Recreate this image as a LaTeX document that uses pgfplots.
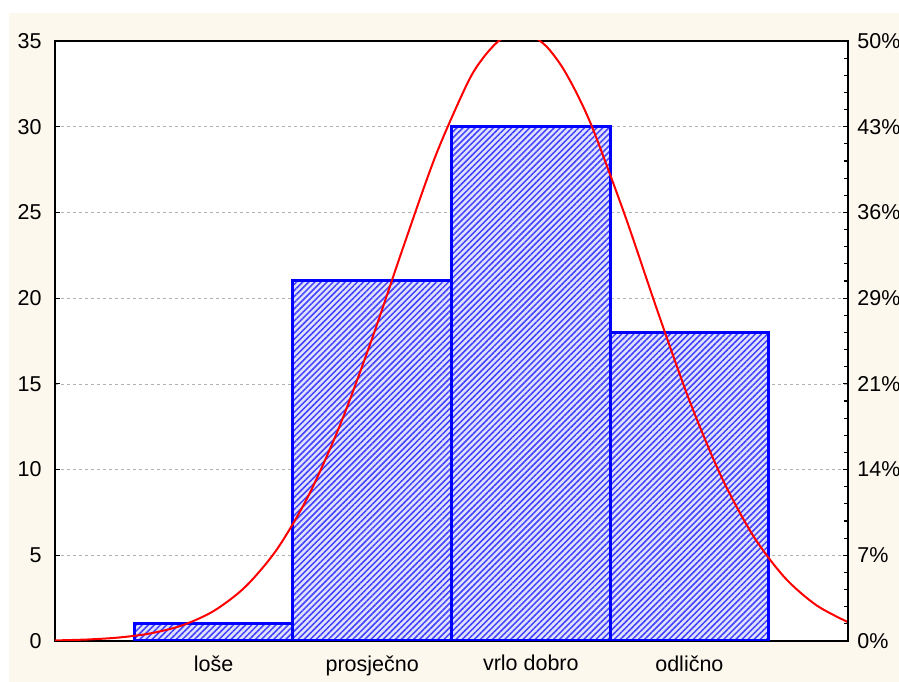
\documentclass[border=0pt]{standalone}
\usepackage{fontspec}
\setmainfont{Liberation Sans}
\usepackage{pgfplots}
\pgfplotsset{compat=1.18}
\usetikzlibrary{patterns.meta}
\definecolor{cream}{HTML}{FDF8EE}
\definecolor{barblue}{HTML}{0000FF}
\begin{document}
\fontsize{21.5bp}{25bp}\selectfont
\begin{tikzpicture}
\useasboundingbox (0,0) rectangle (899bp,682bp);
\fill[white] (0,0) rectangle (899bp,682bp);
\fill[cream] (9bp,0) rectangle (899bp,669bp);
\pgfplotsset{
  base/.style={
    at={(55bp,41bp)}, anchor=south west,
    scale only axis, width=793bp, height=600bp,
    xmin=0, xmax=5, ymin=0, ymax=35,
    axis background/.style={fill=white},
    /pgf/number format/assume math mode=true,
    tick label style={font=\fontsize{21.5bp}{25bp}\selectfont, text=black},
    tick align=inside,
    major tick length=5bp, minor tick length=4bp,
    every tick/.style={black, line width=1.2bp},
    axis line style={black, line width=1.8bp},
  }
}
\begin{axis}[base,
  xtick={1,2,3,4},
  xticklabels={loše, prosječno, vrlo dobro, odlično},
  xtick pos=bottom, ytick pos=left,
  ytick={0,5,...,35},
  ymajorgrids,
  grid style={dashed, gray!60, line width=0.6bp},
  yticklabel style={xshift=-6bp},
  xticklabel style={yshift=-7bp},
]
\addplot[ybar, bar width=1, bar shift=0pt, draw=barblue, line width=3bp,
  fill=barblue!12,
  postaction={pattern={Lines[angle=45, distance=4.3bp, line width=1.5bp]},
  pattern color=barblue!75}]
  coordinates {(1,1) (2,21) (3,30) (4,18)};
\addplot[red, line width=2bp, smooth, no markers] coordinates {
(0.0,0.034) (0.2,0.086) (0.4,0.201) (0.6,0.441) (0.8,0.907)
(1.0,1.748) (1.2,3.161) (1.4,5.357) (1.6,8.51) (1.8,12.66)
(2.0,17.66) (2.2,23.09) (2.4,28.31) (2.6,32.53) (2.7,34.02) (2.8,35.02)
(2.9,35.48) (3.0,35.35) (3.1,34.67) (3.2,33.45) (3.3,31.75) (3.4,29.67)
(3.6,24.66) (3.8,19.22) (4.0,14.03) (4.2,9.61) (4.4,6.17)
(4.6,3.71) (4.8,2.09) (5.0,1.10)};
\end{axis}
\begin{axis}[base,
  axis background/.style={},
  axis x line=none,
  axis y line*=right,
  ytick={0,5,...,35},
  yticklabels={0\%,7\%,14\%,21\%,29\%,36\%,43\%,50\%},
  minor y tick num=4,
  yticklabel style={xshift=2bp},
]
\addplot[draw=none] coordinates {(0,0)};
\end{axis}
\end{tikzpicture}
\end{document}
